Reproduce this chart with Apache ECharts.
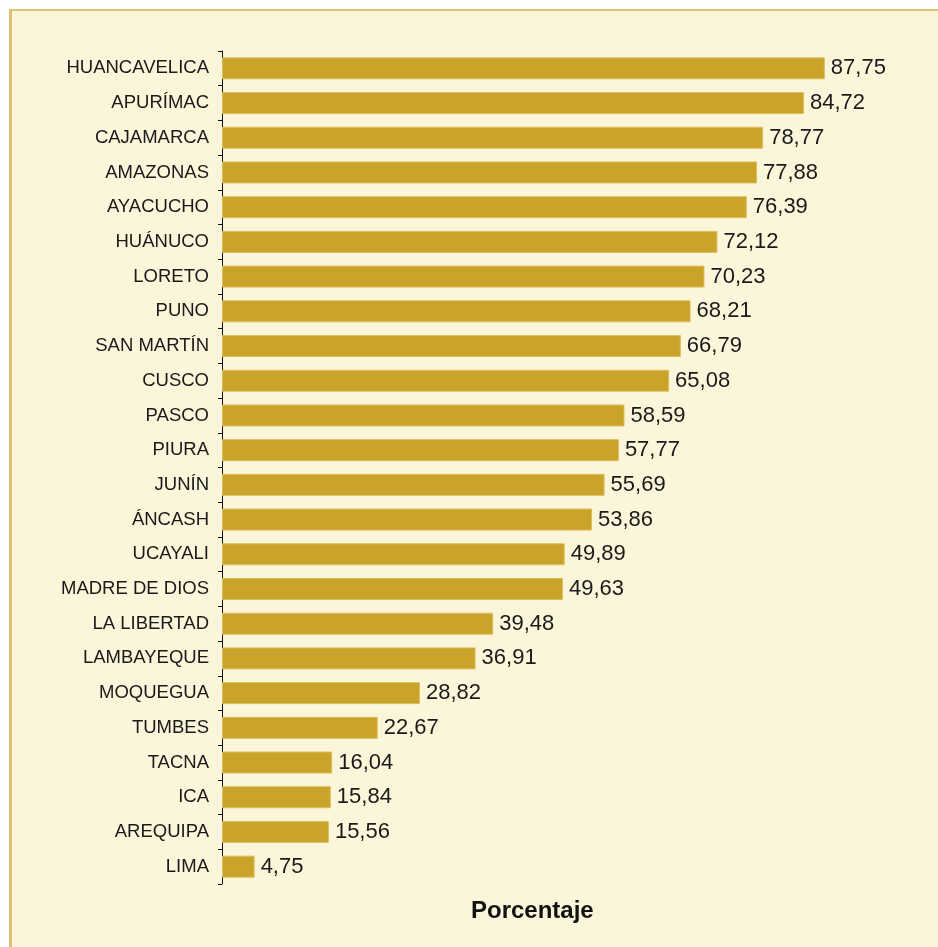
<!DOCTYPE html>
<html>
<head>
<meta charset="utf-8">
<script src="https://cdn.jsdelivr.net/npm/echarts@6/dist/echarts.min.js"></script>
<style>
  html, body { margin: 0; padding: 0; background: #ffffff; overflow: hidden; }
  /* cream panel with the gold frame on its top and left edge */
  #frame {
    position: absolute; left: 9px; top: 9px; width: 940px; height: 950px;
    background: #fbf5d9; border-top: 2px solid #dcc272; border-left: 3px solid #dcc272;
  }
  #chart { position: absolute; left: 0; top: 0; width: 938px; height: 947px; }
</style>
</head>
<body>
<div id="frame"></div>
<div id="chart"></div>
<script>
// Departamentos, ordered top to bottom as in the picture
const departamentos = [
  'HUANCAVELICA', 'APURÍMAC', 'CAJAMARCA', 'AMAZONAS', 'AYACUCHO', 'HUÁNUCO',
  'LORETO', 'PUNO', 'SAN MARTÍN', 'CUSCO', 'PASCO', 'PIURA', 'JUNÍN', 'ÁNCASH',
  'UCAYALI', 'MADRE DE DIOS', 'LA LIBERTAD', 'LAMBAYEQUE', 'MOQUEGUA', 'TUMBES',
  'TACNA', 'ICA', 'AREQUIPA', 'LIMA'
];
// Porcentaje por departamento
const porcentajes = [
  87.75, 84.72, 78.77, 77.88, 76.39, 72.12,
  70.23, 68.21, 66.79, 65.08, 58.59, 57.77, 55.69, 53.86,
  49.89, 49.63, 39.48, 36.91, 28.82, 22.67,
  16.04, 15.84, 15.56, 4.75
];
const axisTitle = 'Porcentaje';

const font = 'Liberation Sans, Arial, sans-serif';
const chart = echarts.init(document.getElementById('chart'));
chart.setOption({
  backgroundColor: 'transparent',
  animation: false,
  title: {
    text: axisTitle,
    left: 466, top: 894,
    textStyle: { fontFamily: font, fontSize: 24, fontWeight: 'bold', color: '#111' }
  },
  grid: { left: 222, top: 51, width: 687, height: 833, containLabel: false },
  xAxis: {
    type: 'value', min: 0, max: 100, show: false
  },
  yAxis: {
    type: 'category',
    data: departamentos,
    inverse: true,
    axisLine: { show: true, lineStyle: { color: '#111', width: 1 } },
    axisTick: { show: true, length: 4, lineStyle: { color: '#111' } },
    axisLabel: {
      margin: 13,
      fontFamily: font,
      fontSize: 18.5,
      color: '#1a1a1a'
    },
    splitLine: { show: false }
  },
  series: [{
    type: 'bar',
    data: porcentajes,
    barWidth: 22,
    itemStyle: { color: '#c9a32a', borderColor: '#dcbf5c', borderWidth: 1 },
    label: {
      show: true,
      position: 'right',
      distance: 6,
      fontFamily: font,
      fontSize: 22,
      color: '#1a1a1a',
      formatter: p => p.value.toFixed(2).replace('.', ',')
    }
  }]
});
</script>
</body>
</html>
